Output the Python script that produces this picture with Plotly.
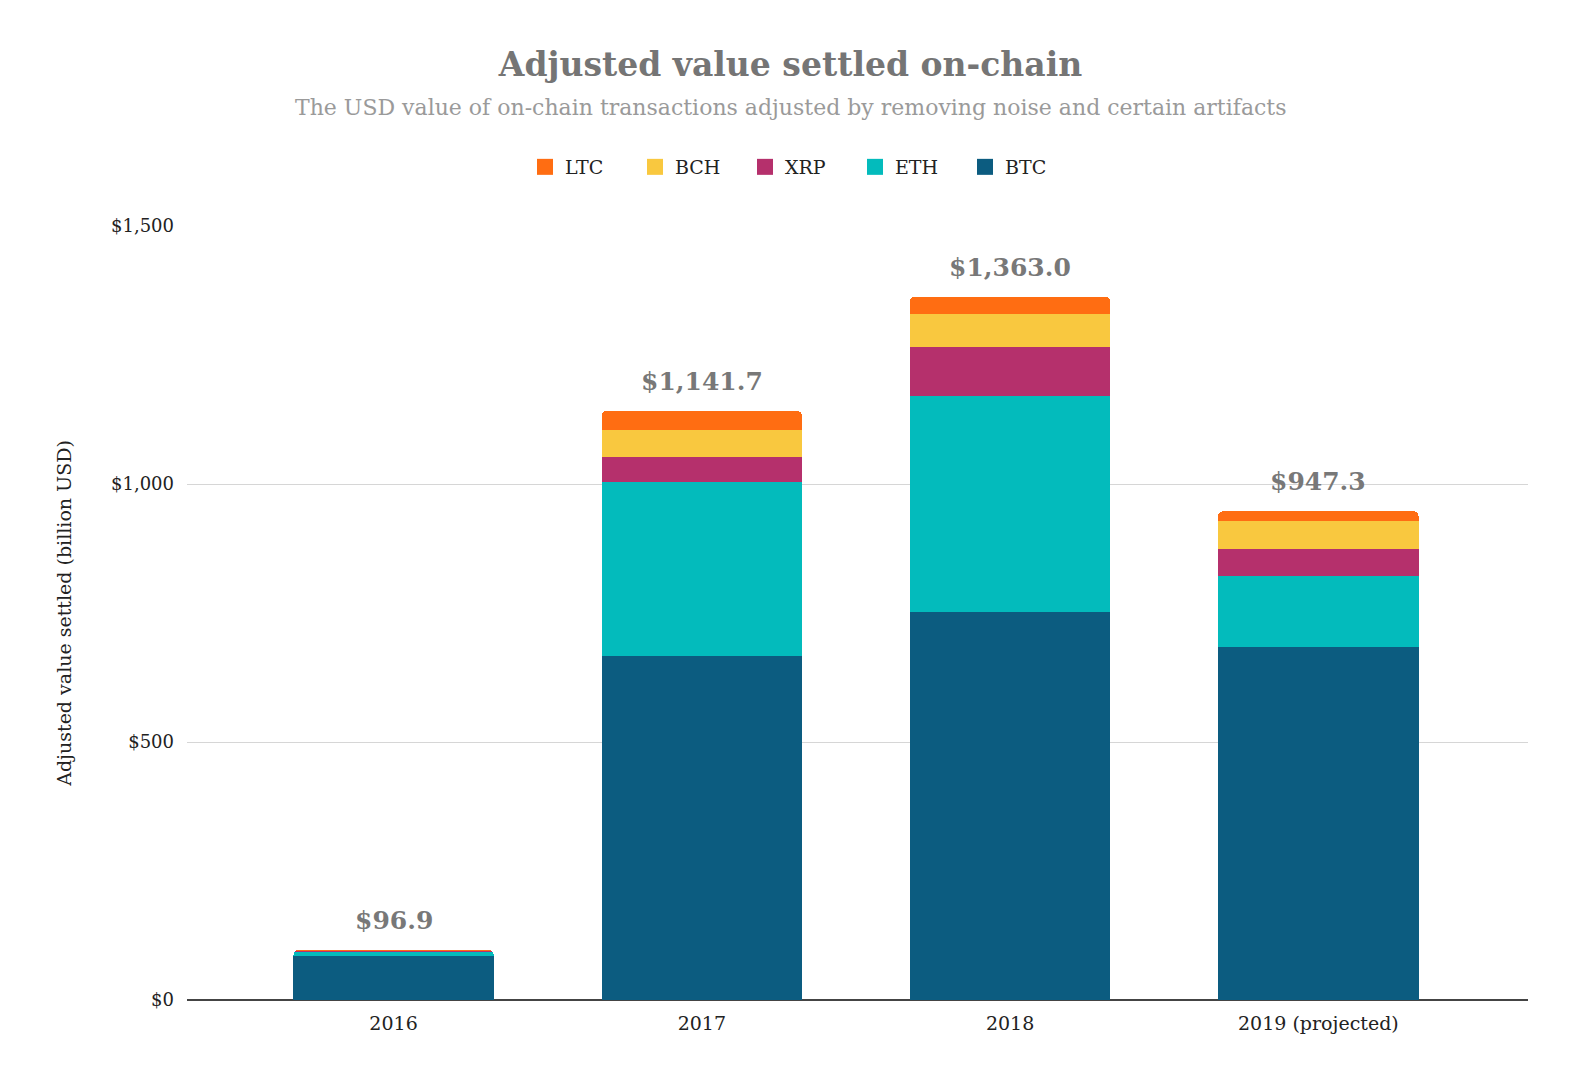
import plotly.graph_objects as go

categories = ["2016", "2017", "2018", "2019 (projected)"]
btc = [86.0, 667.0, 751.0, 685.0]
eth = [8.5, 337.0, 420.0, 137.0]
xrp = [1.6, 48.0, 94.0, 52.0]
bch = [0.0, 53.0, 64.0, 54.0]
ltc = [0.8, 36.7, 34.0, 19.3]
totals = [96.9, 1141.7, 1363.0, 947.3]
total_labels = ["$96.9", "$1,141.7", "$1,363.0", "$947.3"]
y_ticks = [0, 500, 1000, 1500]
y_tick_labels = ["$0", "$500", "$1,000", "$1,500"]

series = [
    ("BTC", btc, "#0C5C80"),
    ("ETH", eth, "#03BBBC"),
    ("XRP", xrp, "#B5306C"),
    ("BCH", bch, "#F9C83F"),
    ("LTC", ltc, "#FF6D12"),
]

SERIF = "Georgia, 'DejaVu Serif', 'Liberation Serif', serif"

W, H = 1582, 1084
ML, MR, MT, MB = 179, 62, 218, 92
PW = W - ML - MR
PH = H - MT - MB
CENTER_X = 782.5  # horizontal centre of the header block, figure px
LEGEND_X = 792.0

xpos = list(range(len(categories)))

fig = go.Figure()
for name, vals, color in series:
    fig.add_trace(go.Bar(x=xpos, y=vals, name=name, marker_color=color,
                         marker_line_width=0, legendgroup=name, showlegend=False))
# legend entries with larger square swatches
for name, vals, color in series:
    fig.add_trace(go.Scatter(x=[None], y=[None], mode="markers", name=name,
                             legendgroup=name,
                             marker=dict(symbol="square", size=16, color=color)))

for xp, tot, lab in zip(xpos, totals, total_labels):
    fig.add_annotation(x=xp, y=tot, text="<b>" + lab + "</b>", showarrow=False,
                       yanchor="bottom", yshift=13,
                       font=dict(family=SERIF, size=25, color="#787878"))

fig.update_layout(
    width=W, height=H,
    paper_bgcolor="white", plot_bgcolor="white",
    barmode="stack", bargap=0.35, barcornerradius=5,
    margin=dict(l=ML, r=MR, t=MT, b=MB),
    title=dict(
        text="<b>Adjusted value settled on-chain</b>",
        x=CENTER_X / W, xanchor="center", y=1 - 56 / H, yanchor="middle",
        font=dict(family=SERIF, size=33, color="#757575"),
    ),
    legend=dict(orientation="h", x=(LEGEND_X - ML) / PW, xanchor="center",
                y=1 + (MT - 159) / PH, yanchor="middle", traceorder="reversed",
                font=dict(family=SERIF, size=19, color="#222222"),
                itemwidth=30, itemsizing="trace",
                entrywidth=65, entrywidthmode="pixels"),
    font=dict(family=SERIF, color="#222222"),
    showlegend=True,
)

fig.add_annotation(
    text="The USD value of on-chain transactions adjusted by removing noise and certain artifacts",
    xref="paper", yref="paper", x=(CENTER_X - ML) / PW, xanchor="center",
    y=1 + (MT - 99) / PH, yanchor="middle", showarrow=False,
    font=dict(family=SERIF, size=22, color="#9a9a9a"),
)

fig.update_xaxes(range=[-0.67, len(categories) - 1 + 0.68], tickvals=xpos, ticktext=categories,
                 showgrid=False, showline=False, ticks="", zeroline=False,
                 ticklabelstandoff=10,
                 tickfont=dict(family=SERIF, size=19, color="#222222"))
fig.update_yaxes(range=[0, 1500], tickvals=y_ticks, ticktext=y_tick_labels,
                 showgrid=True, gridcolor="#d6d6d6", gridwidth=1,
                 zeroline=True, zerolinecolor="#444444", zerolinewidth=2,
                 ticks="", ticklen=0, ticklabelstandoff=12,
                 tickfont=dict(family=SERIF, size=18, color="#222222"),
                 title=dict(text="Adjusted value settled (billion USD)", standoff=34,
                            font=dict(family=SERIF, size=19, color="#222222")))

fig.write_html("out.html")
